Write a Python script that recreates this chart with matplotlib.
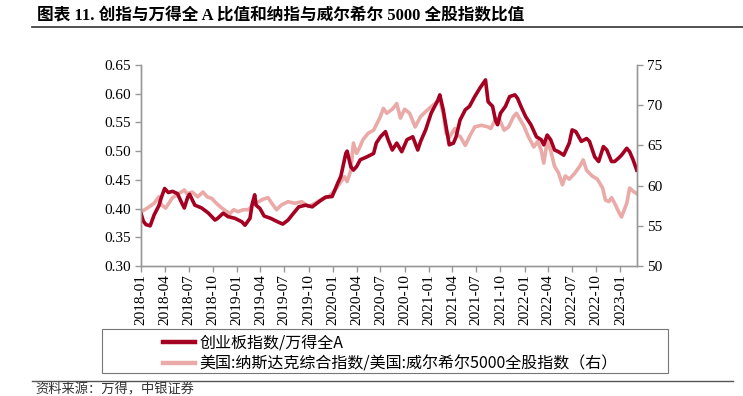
import matplotlib
matplotlib.use('Agg')
import matplotlib.pyplot as plt
import matplotlib.dates as mdates
from matplotlib.patches import Rectangle
from matplotlib.lines import Line2D
import pandas as pd

plt.rcParams['font.family'] = ['Liberation Serif', 'Noto Sans CJK SC', 'DejaVu Sans']

# 创业板指数/万得全A (左轴)
cyb_dates = [
    '2018-01-02', '2018-01-10', '2018-01-20', '2018-02-05', '2018-02-20', '2018-03-10',
    '2018-03-20', '2018-04-01', '2018-04-15', '2018-05-01', '2018-05-20', '2018-06-05',
    '2018-06-15', '2018-06-28', '2018-07-05', '2018-07-25', '2018-08-20', '2018-09-15',
    '2018-10-10', '2018-10-20', '2018-11-10', '2018-11-28', '2018-12-25', '2019-01-20',
    '2019-02-01', '2019-02-20', '2019-03-01', '2019-03-10', '2019-03-15', '2019-03-30',
    '2019-04-15', '2019-05-10', '2019-06-05', '2019-06-25', '2019-07-15', '2019-08-05',
    '2019-08-25', '2019-09-20', '2019-10-15', '2019-11-10', '2019-12-05', '2019-12-30',
    '2020-01-20', '2020-02-01', '2020-02-20', '2020-02-25', '2020-03-10', '2020-03-20',
    '2020-04-01', '2020-04-15', '2020-05-10', '2020-06-05', '2020-06-15', '2020-07-01',
    '2020-07-20', '2020-07-30', '2020-08-15', '2020-09-01', '2020-09-20', '2020-10-10',
    '2020-11-01', '2020-11-20', '2020-12-01', '2020-12-20', '2021-01-10', '2021-02-05',
    '2021-02-12', '2021-02-25', '2021-03-10', '2021-03-20', '2021-04-05', '2021-04-15',
    '2021-04-30', '2021-05-20', '2021-06-05', '2021-06-25', '2021-07-15', '2021-08-05',
    '2021-08-15', '2021-09-01', '2021-09-12', '2021-09-20', '2021-10-01', '2021-10-20',
    '2021-11-05', '2021-11-25', '2021-12-05', '2021-12-18', '2022-01-05', '2022-01-25',
    '2022-02-15', '2022-03-05', '2022-03-15', '2022-03-28', '2022-04-10', '2022-04-25',
    '2022-05-10', '2022-05-30', '2022-06-20', '2022-07-01', '2022-07-15', '2022-08-05',
    '2022-08-25', '2022-09-05', '2022-09-25', '2022-10-10', '2022-10-28', '2022-11-10',
    '2022-11-28', '2022-12-10', '2022-12-25', '2023-01-05', '2023-01-25', '2023-02-05',
    '2023-02-18', '2023-03-04',
]
cyb_vals = [
    0.390, 0.378, 0.372, 0.370, 0.389, 0.405,
    0.420, 0.435, 0.428, 0.430, 0.426, 0.410,
    0.401, 0.420, 0.425, 0.406, 0.401, 0.392,
    0.380, 0.383, 0.392, 0.386, 0.383, 0.377,
    0.371, 0.383, 0.409, 0.424, 0.406, 0.400,
    0.387, 0.383, 0.377, 0.373, 0.380, 0.392,
    0.403, 0.406, 0.403, 0.412, 0.420, 0.421,
    0.444, 0.456, 0.496, 0.500, 0.473, 0.467,
    0.473, 0.485, 0.490, 0.496, 0.514, 0.525,
    0.534, 0.520, 0.502, 0.514, 0.499, 0.520,
    0.525, 0.502, 0.517, 0.537, 0.566, 0.589,
    0.598, 0.572, 0.537, 0.511, 0.514, 0.525,
    0.554, 0.572, 0.578, 0.595, 0.610, 0.624,
    0.586, 0.578, 0.554, 0.546, 0.566, 0.578,
    0.595, 0.598, 0.592, 0.578, 0.560, 0.546,
    0.525, 0.520, 0.511, 0.528, 0.520, 0.502,
    0.499, 0.493, 0.514, 0.537, 0.534, 0.517,
    0.522, 0.517, 0.490, 0.482, 0.508, 0.502,
    0.482, 0.482, 0.488, 0.493, 0.505, 0.499,
    0.485, 0.467,
]

# 纳斯达克/威尔希尔5000 (右轴)
nas_dates = [
    '2018-01-02', '2018-01-25', '2018-02-20', '2018-03-10', '2018-03-20', '2018-04-05',
    '2018-05-01', '2018-05-20', '2018-06-15', '2018-06-25', '2018-07-15', '2018-08-05',
    '2018-08-25', '2018-09-10', '2018-09-28', '2018-10-15', '2018-11-05', '2018-11-25',
    '2018-12-05', '2018-12-20', '2019-01-05', '2019-01-25', '2019-02-15', '2019-03-01',
    '2019-03-25', '2019-04-10', '2019-04-30', '2019-05-10', '2019-06-01', '2019-06-20',
    '2019-07-15', '2019-08-10', '2019-09-05', '2019-10-01', '2019-10-25', '2019-11-20',
    '2019-12-15', '2020-01-10', '2020-01-20', '2020-02-15', '2020-02-25', '2020-03-10',
    '2020-03-20', '2020-04-01', '2020-04-15', '2020-04-25', '2020-05-15', '2020-06-05',
    '2020-07-01', '2020-07-12', '2020-07-25', '2020-08-15', '2020-09-01', '2020-09-15',
    '2020-10-01', '2020-10-20', '2020-11-10', '2020-12-01', '2020-12-20', '2021-01-10',
    '2021-02-01', '2021-02-12', '2021-02-25', '2021-03-08', '2021-03-20', '2021-04-10',
    '2021-04-20', '2021-05-01', '2021-05-20', '2021-06-05', '2021-06-25', '2021-07-20',
    '2021-08-15', '2021-08-25', '2021-09-12', '2021-09-25', '2021-10-15', '2021-11-01',
    '2021-11-20', '2021-12-01', '2021-12-15', '2021-12-28', '2022-01-15', '2022-01-25',
    '2022-02-05', '2022-02-20', '2022-03-05', '2022-03-15', '2022-03-28', '2022-04-10',
    '2022-04-25', '2022-05-10', '2022-05-25', '2022-06-05', '2022-06-20', '2022-07-10',
    '2022-07-30', '2022-08-12', '2022-08-25', '2022-09-15', '2022-10-05', '2022-10-25',
    '2022-11-05', '2022-11-18', '2022-11-28', '2022-12-10', '2022-12-28', '2023-01-05',
    '2023-01-25', '2023-02-05', '2023-02-18', '2023-03-04',
]
nas_vals = [
    56.75, 57.2, 57.8, 58.6, 57.6, 57.2,
    58.5, 58.9, 59.45, 59.0, 59.2, 58.6,
    59.2, 58.6, 58.4, 57.8, 57.2, 56.75,
    56.5, 57.0, 56.75, 57.0, 57.0, 57.6,
    58.0, 58.3, 58.5, 58.0, 57.0, 57.6,
    58.0, 57.8, 58.0, 57.4, 57.8, 58.3,
    58.6, 59.4, 59.9, 61.1, 60.5, 61.9,
    65.3, 64.0, 64.9, 65.7, 66.5, 66.9,
    68.6, 69.6, 69.0, 69.5, 70.2, 68.4,
    69.5, 69.0, 67.3, 68.6, 69.2, 69.8,
    70.4, 70.6, 69.0, 66.5, 66.0, 67.1,
    66.3, 66.1, 65.0, 66.1, 67.3, 67.5,
    67.3, 67.1, 68.2, 68.4, 66.9, 67.3,
    68.6, 69.0, 68.2, 67.5, 66.1, 65.5,
    64.8, 65.5, 64.4, 62.8, 65.5, 64.4,
    62.4, 61.6, 60.1, 61.2, 60.8, 61.5,
    62.4, 63.2, 61.9, 61.2, 60.8, 59.7,
    58.2, 58.0, 58.5, 57.8, 56.55, 56.1,
    57.8, 59.7, 59.3, 59.0,
]

labels = ['创业板指数/万得全A', '美国:纳斯达克综合指数/美国:威尔希尔5000全股指数（右）']
title = '图表 11. 创指与万得全 A 比值和纳指与威尔希尔 5000 全股指数比值'
source = '资料来源：万得，中银证券'

red = '#A50021'
pink = '#E9AAA8'
gray = '#999999'

fig = plt.figure(figsize=(7.43, 3.96), dpi=100)
ax = fig.add_axes([141/743, 1-266/396, 496/743, 201/396])
ax2 = ax.twinx()

ax2.plot(pd.to_datetime(nas_dates), nas_vals, color=pink, lw=2.6)
ax.plot(pd.to_datetime(cyb_dates), cyb_vals, color=red, lw=2.6)
ax.set_zorder(ax2.get_zorder() + 1)
ax.patch.set_visible(False)

ax.set_ylim(0.30, 0.65)
ax.set_yticks([0.30, 0.35, 0.40, 0.45, 0.50, 0.55, 0.60, 0.65])
ax.yaxis.set_major_formatter(plt.FormatStrFormatter('%.2f'))
ax2.set_ylim(50, 75)
ax2.set_yticks([50, 55, 60, 65, 70, 75])

ax.set_xlim(pd.Timestamp('2018-01-01'), pd.Timestamp('2023-03-05'))
ax.xaxis.set_major_locator(mdates.MonthLocator(bymonth=[1, 4, 7, 10]))
ax.xaxis.set_major_formatter(mdates.DateFormatter('%Y-%m'))
for t in ax.get_xticklabels():
    t.set_rotation(90)

for a in (ax, ax2):
    a.spines['top'].set_visible(False)
    for s in ('left', 'right', 'bottom'):
        a.spines[s].set_color(gray)
        a.spines[s].set_linewidth(1.0)
    a.tick_params(colors=gray, labelcolor='black', labelsize=11, length=4, width=1, direction='out')
ax.tick_params(axis='x', pad=2)

# 图例
handles = [Line2D([], [], color=red, lw=3.2), Line2D([], [], color=pink, lw=3.2)]
fig.legend(handles, labels, loc='upper left', bbox_to_anchor=(155/743, 1-327/396),
           frameon=False, prop={'family': ['Noto Sans CJK SC'], 'size': 11.5},
           handlelength=2.0, handletextpad=0.3, labelspacing=0.2, borderpad=0)
fig.patches.append(Rectangle((102/743, 1-373/396), 566/743, 44/396, transform=fig.transFigure,
                             fill=False, edgecolor='#777777', lw=0.8))

# 标题和来源
fig.text(37/743, 1-15/396, title, fontsize=12, fontweight='bold', va='center', ha='left',
         family=['Liberation Serif', 'Noto Sans CJK SC'])
fig.add_artist(Line2D([32/743, 1], [1-27/396, 1-27/396], color='#333333', lw=1.2, transform=fig.transFigure))
fig.add_artist(Line2D([32/743, 733/743], [1-381/396, 1-381/396], color='#555555', lw=1.0, transform=fig.transFigure))
fig.text(35/743, 1-390/396, source, fontsize=9.5, style='italic', va='center', ha='left',
         family=['Noto Sans CJK SC'], color='#333333')

fig.savefig('out.png', dpi=100)
